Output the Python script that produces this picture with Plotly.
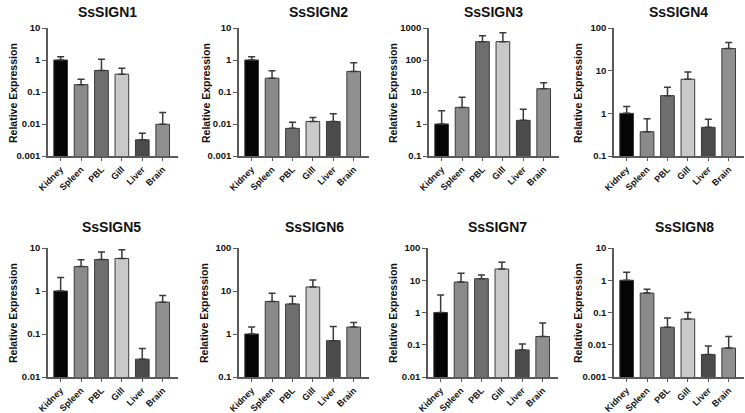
import plotly.graph_objects as go

tissues = ["Kidney", "Spleen", "PBL", "Gill", "Liver", "Brain"]
genes = ["SsSIGN1", "SsSIGN2", "SsSIGN3", "SsSIGN4",
         "SsSIGN5", "SsSIGN6", "SsSIGN7", "SsSIGN8"]

sign1_mean = [1.0, 0.17, 0.47, 0.36, 0.0032, 0.0098]
sign1_sd = [0.27, 0.08, 0.58, 0.19, 0.0019, 0.013]
sign2_mean = [1.0, 0.27, 0.0073, 0.012, 0.012, 0.44]
sign2_sd = [0.27, 0.19, 0.004, 0.004, 0.009, 0.38]
sign3_mean = [1.0, 3.3, 375, 375, 1.3, 12.7]
sign3_sd = [1.6, 3.5, 195, 335, 1.6, 6.9]
sign4_mean = [1.0, 0.37, 2.6, 6.3, 0.47, 33]
sign4_sd = [0.45, 0.38, 1.5, 3.0, 0.26, 13]
sign5_mean = [1.0, 3.7, 5.4, 5.7, 0.026, 0.55]
sign5_sd = [1.05, 1.6, 2.7, 3.4, 0.020, 0.24]
sign6_mean = [1.0, 5.7, 5.0, 12.4, 0.70, 1.45]
sign6_sd = [0.45, 3.2, 2.6, 5.6, 0.8, 0.41]
sign7_mean = [1.0, 8.8, 11.2, 22.3, 0.069, 0.18]
sign7_sd = [2.5, 7.8, 3.3, 13.7, 0.036, 0.29]
sign8_mean = [1.0, 0.40, 0.035, 0.063, 0.005, 0.0079]
sign8_sd = [0.77, 0.13, 0.033, 0.037, 0.0041, 0.0101]

means = [sign1_mean, sign2_mean, sign3_mean, sign4_mean,
         sign5_mean, sign6_mean, sign7_mean, sign8_mean]
sds = [sign1_sd, sign2_sd, sign3_sd, sign4_sd,
       sign5_sd, sign6_sd, sign7_sd, sign8_sd]

# log10 axis ranges (min exponent, max exponent)
y_ranges = [(-3, 1), (-3, 1), (-1, 3), (-1, 2), (-2, 1), (-1, 2), (-2, 2), (-3, 1)]

bar_colors = ["#050505", "#8a8a8a", "#6e6e6e", "#c9c9c9", "#4b4b4b", "#8f8f8f"]

W, H = 745, 413
# pixel boxes of plot areas: (left, right, top, bottom)
boxes = [(48, 178, 28, 156), (239, 369, 28, 156), (429, 559, 28, 156), (614, 744, 28, 156),
         (48, 178, 248, 377), (239, 369, 248, 377), (428, 558, 248, 377), (614, 744, 248, 377)]
title_pos = [(107, 12), (318, 12), (493, 12), (678, 12),
             (112, 227), (314, 227), (497, 227), (684, 227)]
ylab_pos = [(13, 93), (206, 93), (393, 93), (578, 93),
            (13, 313), (204, 313), (393, 313), (578, 313)]

FONT = "Arial, Liberation Sans, sans-serif"
AXC = "#5a5a5a"

def fmt(e):
    v = 10.0 ** e
    if e >= 0:
        return str(int(round(v)))
    return ("{:." + str(-e) + "f}").format(v)

fig = go.Figure()
annotations = []
for i in range(8):
    n = i + 1
    xa = "x" if n == 1 else "x%d" % n
    ya = "y" if n == 1 else "y%d" % n
    fig.add_trace(go.Bar(
        x=tissues, y=means[i], xaxis=xa, yaxis=ya,
        marker=dict(color=bar_colors, line=dict(color="#3a3a3a", width=1)),
        error_y=dict(type="data", symmetric=False, array=sds[i],
                     arrayminus=[0] * 6, color="#3a3a3a", thickness=1.5, width=3.5),
        showlegend=False, hoverinfo="x+y",
    ))
    l, r, t, b = boxes[i]
    lo, hi = y_ranges[i]
    tv = [10.0 ** e for e in range(lo, hi + 1)]
    tt = [fmt(e) for e in range(lo, hi + 1)]
    xkey = "xaxis" if n == 1 else "xaxis%d" % n
    ykey = "yaxis" if n == 1 else "yaxis%d" % n
    fig.layout[xkey] = dict(
        domain=[l / W, r / W], anchor=ya, type="category", automargin=False,
        range=[-0.62, 5.75], showline=True, linecolor=AXC, linewidth=1.5,
        ticks="outside", ticklen=3, tickwidth=1.2, tickcolor=AXC,
        tickangle=-45, tickfont=dict(family=FONT, size=9, color="#111", weight="bold"),
        showgrid=False, zeroline=False, fixedrange=True,
    )
    fig.layout[ykey] = dict(
        domain=[1 - b / H, 1 - t / H], anchor=xa, type="log", automargin=False,
        range=[lo, hi], showline=True, linecolor=AXC, linewidth=1.5,
        ticks="outside", ticklen=4, tickwidth=1.2, tickcolor=AXC,
        tickvals=tv, ticktext=tt,
        tickfont=dict(family=FONT, size=9.5, color="#111", weight="bold"),
        showgrid=False, zeroline=False, fixedrange=True,
    )
    tx, ty = title_pos[i]
    annotations.append(dict(
        text="<b>%s</b>" % genes[i], x=tx / W, y=1 - ty / H, xref="paper", yref="paper",
        xanchor="center", yanchor="middle", showarrow=False,
        font=dict(family=FONT, size=14, color="#111"),
    ))
    lx, ly = ylab_pos[i]
    annotations.append(dict(
        text="<b>Relative Expression</b>", x=lx / W, y=1 - ly / H, xref="paper", yref="paper",
        xanchor="center", yanchor="middle", showarrow=False, textangle=-90,
        font=dict(family=FONT, size=10.5, color="#111"),
    ))

fig.update_layout(
    template="none",
    width=W, height=H, autosize=False,
    margin=dict(l=0, r=0, t=0, b=0, autoexpand=False),
    paper_bgcolor="white", plot_bgcolor="white",
    bargap=0.33, annotations=annotations,
)

fig.write_html(
    "out.html",
    config={"displayModeBar": False},
    post_script="document.body.style.margin='0';document.body.style.overflow='hidden';",
)
